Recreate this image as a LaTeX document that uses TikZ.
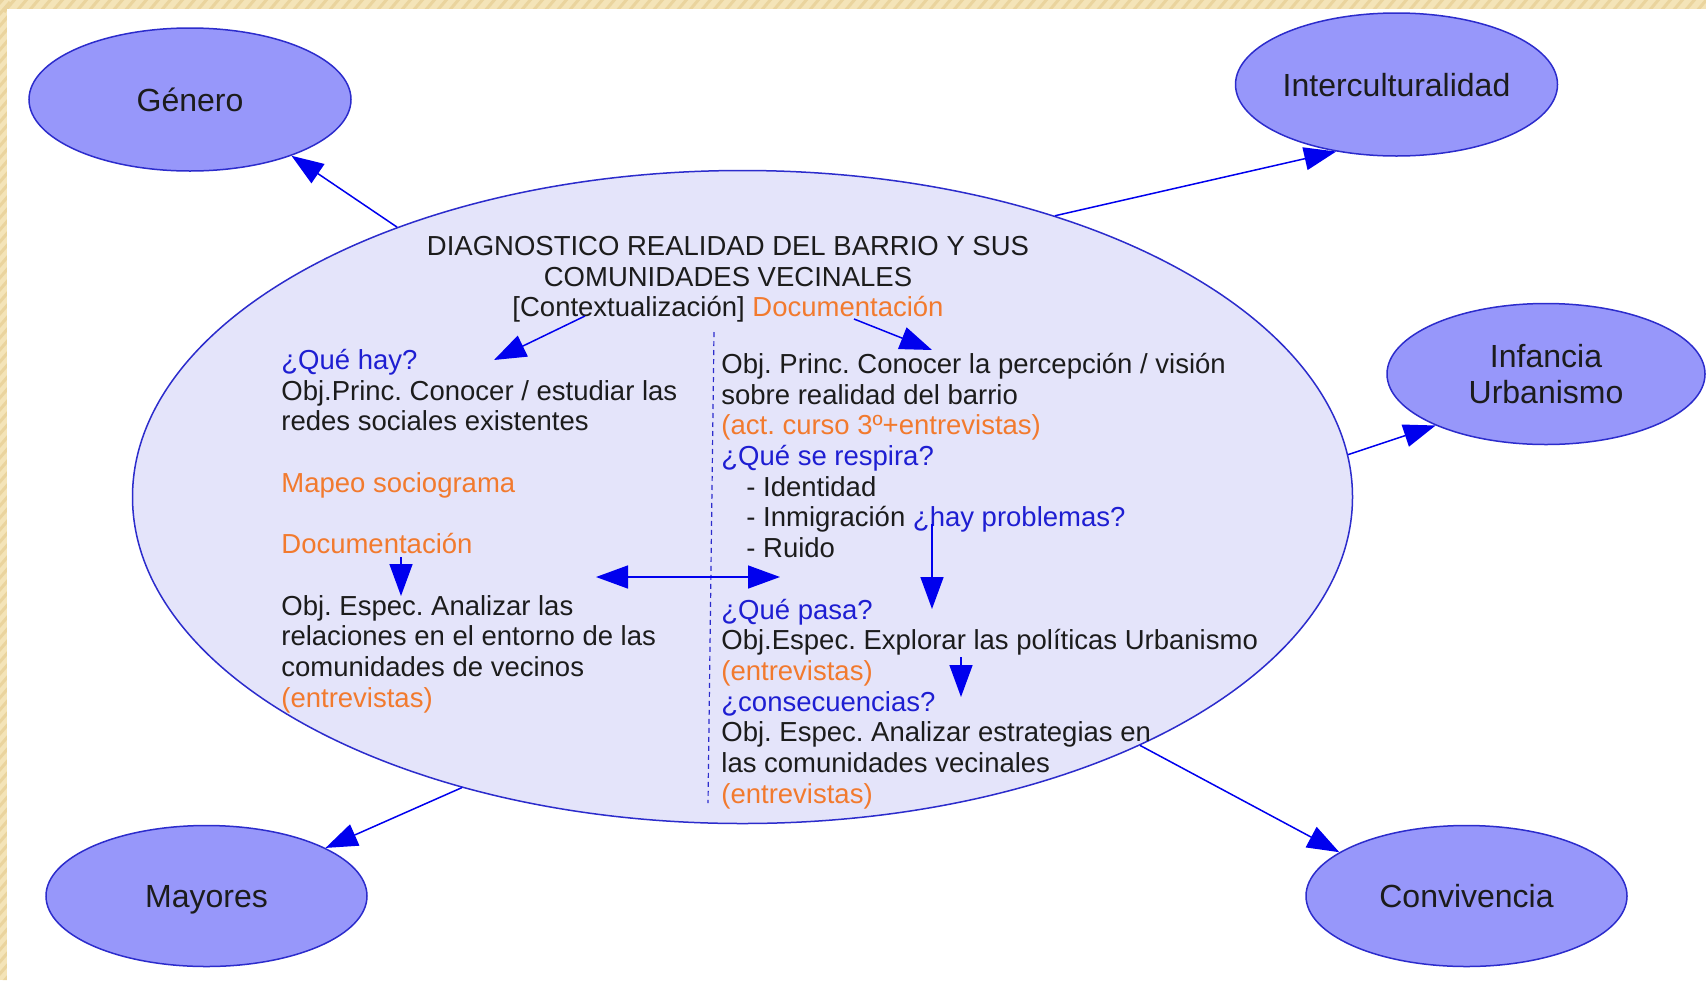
\documentclass[tikz,border=0pt]{standalone}
\usepackage{fontspec}
\setmainfont{Liberation Sans}
\usetikzlibrary{shapes.geometric,arrows.meta}
\definecolor{beige}{HTML}{F4E4B8}
\definecolor{stripe}{HTML}{EAD49E}
\definecolor{bubblefill}{HTML}{9797FA}
\definecolor{mainfill}{HTML}{E4E4FA}
\definecolor{edgeblue}{HTML}{2C2CCC}
\definecolor{arrowblue}{HTML}{0000EE}
\definecolor{txtblue}{HTML}{1E1ED2}
\definecolor{txtorange}{HTML}{F27A2E}
\definecolor{txtblack}{HTML}{1C1C1C}
\frenchspacing
\begin{document}
\frenchspacing
\begin{tikzpicture}[x=0.5pt,y=-0.5pt,
  bubble/.style={ellipse, draw=edgeblue, line width=0.75pt, fill=bubblefill, inner sep=0pt,
    text=txtblack, font=\fontsize{16pt}{18pt}\selectfont, align=center},
  onel/.style={text depth=0pt},
  mainell/.style={ellipse, draw=edgeblue, line width=0.75pt, fill=mainfill, inner sep=0pt},
  txt/.style={inner sep=0pt, text=txtblack, font=\fontsize{13.75pt}{15.35pt}\selectfont\frenchspacing},
  arr/.style={draw=arrowblue, line width=0.75pt, -{Triangle[length=16pt,width=11.5pt]}},
  darr/.style={draw=arrowblue, line width=0.75pt, {Triangle[length=16pt,width=11.5pt]}-{Triangle[length=16pt,width=11.5pt]}},
  sep/.style={draw=edgeblue, line width=0.6pt, dash pattern=on 2.5pt off 2pt}
]
\useasboundingbox (0,0) rectangle (1706,980);
% slide background
\fill[beige] (0,0) rectangle (1706,980);
\begin{scope}
  \clip (0,0) rectangle (1706,9) (0,0) rectangle (7,980);
  \foreach \i in {-20,-8,...,1720} \draw[stripe, line width=1.5pt] (\i,12) -- ++(12,-14);
  \foreach \j in {-20,-8,...,1000} \draw[stripe, line width=1.5pt] (-2,\j+12) -- ++(12,-14);
\end{scope}
\fill[white] (7,9) rectangle (1706,980);

% central ellipse
\node[mainell, minimum width=610pt, minimum height=326.5pt] (main) at (742.5,497) {};

% outer ellipses
\node[bubble, onel, minimum width=161pt, minimum height=71.5pt] (genero) at (190,99.5) {Género};
\node[bubble, onel, minimum width=159.5pt, minimum height=71.5pt] (inter) at (1396.5,84.5) {Interculturalidad};
\node[bubble, minimum width=159pt, minimum height=70.5pt] (infancia) at (1546,374) {Infancia\\Urbanismo};
\node[bubble, onel, minimum width=160.5pt, minimum height=70.5pt] (mayores) at (206.5,896) {Mayores};
\node[bubble, onel, minimum width=160.5pt, minimum height=70.5pt] (conv) at (1466.5,896) {Convivencia};

% outer connectors
\draw[arr] (main.142.1) -- (genero.-29.4);
\draw[arr] (main.42.5) -- (inter.-132);
\draw[arr] (main.4.1) -- (infancia.-155.1);
\draw[arr] (main.226.2) -- (mayores.22.1);
\draw[arr] (main.-32.6) -- (conv.161.3);

% dashed separator
\coordinate (dtop) at (714,332);
\coordinate (dbot) at (708,803);
\draw[sep] (dtop) -- (dbot);

% title
\node[txt, align=center, anchor=north] (title) at (728,233.5)
  {\strut DIAGNOSTICO REALIDAD DEL BARRIO Y SUS\\
   COMUNIDADES VECINALES\\
   {[}Contextualización{]} \textcolor{txtorange}{Documentación}};

% left column
\node[txt, align=left, anchor=north west] (left) at (281,347.5)
  {\strut\textcolor{txtblue}{¿Qué hay?}\\
   Obj.Princ. Conocer / estudiar las\\
   redes sociales existentes\\[15.35pt]
   \textcolor{txtorange}{Mapeo sociograma}\\[15.35pt]
   \textcolor{txtorange}{Documentación}\\[15.35pt]
   Obj. Espec. Analizar las\\
   relaciones en el entorno de las\\
   comunidades de vecinos\\
   \textcolor{txtorange}{(entrevistas)}};

% right column
\node[txt, align=left, anchor=north west] (right) at (721,351.5)
  {\strut Obj. Princ. Conocer la percepción / visión\\
   sobre realidad del barrio\\
   \textcolor{txtorange}{(act. curso 3º+entrevistas)}\\
   \textcolor{txtblue}{¿Qué se respira?}\\
   \hspace*{12.5pt}- Identidad\\
   \hspace*{12.5pt}- Inmigración \textcolor{txtblue}{¿hay problemas?}\\
   \hspace*{12.5pt}- Ruido\\[15.35pt]
   \textcolor{txtblue}{¿Qué pasa?}\\
   Obj.Espec. Explorar las políticas Urbanismo\\
   \textcolor{txtorange}{(entrevistas)}\\
   \textcolor{txtblue}{¿consecuencias?}\\
   Obj. Espec. Analizar estrategias en\\
   las comunidades vecinales\\
   \textcolor{txtorange}{(entrevistas)}};

% inner connectors
\coordinate (ctxs) at (585,316);
\coordinate (queh) at (494,360);
\coordinate (docs) at (854,319);
\coordinate (objp) at (932,350);
\coordinate (ldocs) at (401,557);
\coordinate (lobj) at (401,596);
\coordinate (hl) at (596,577);
\coordinate (hr) at (780,577);
\coordinate (hays) at (932,524);
\coordinate (haye) at (932,609);
\coordinate (urbs) at (961,657);
\coordinate (urbe) at (961,697);
\draw[arr] (ctxs) -- (queh);
\draw[arr] (docs) -- (objp);
\draw[arr] (ldocs) -- (lobj);
\draw[darr] (hl) -- (hr);
\draw[arr] (hays) -- (haye);
\draw[arr] (urbs) -- (urbe);
\end{tikzpicture}
\end{document}
